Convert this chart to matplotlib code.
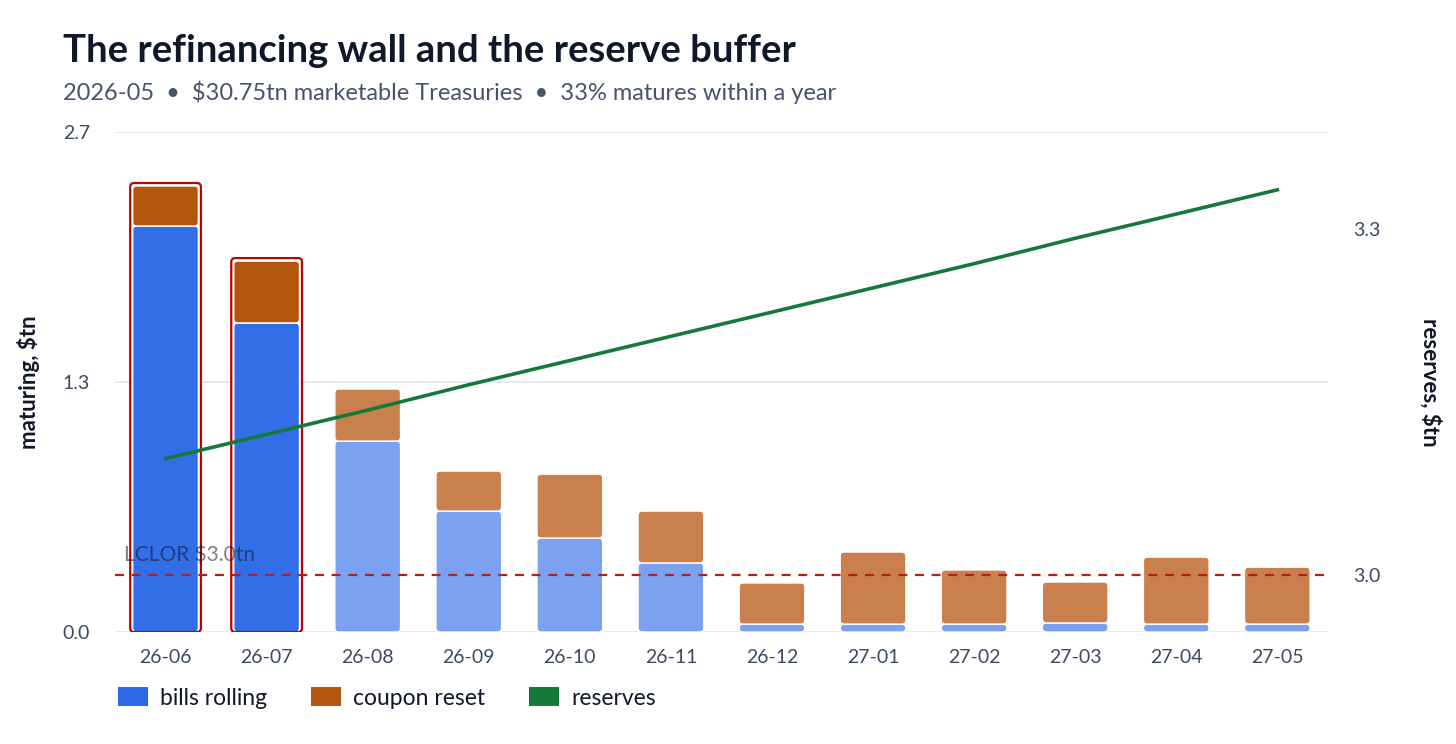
import matplotlib
matplotlib.use("Agg")
import matplotlib.pyplot as plt
from matplotlib.patches import FancyBboxPatch, Patch

plt.rcParams["font.family"] = ["Lato", "DejaVu Sans"]

# ---- data ----
months = ["26-06", "26-07", "26-08", "26-09", "26-10", "26-11",
          "26-12", "27-01", "27-02", "27-03", "27-04", "27-05"]
bills = [2.152, 1.638, 1.012, 0.641, 0.498, 0.366, 0.042, 0.042, 0.042, 0.048, 0.042, 0.042]
coupon = [0.212, 0.328, 0.276, 0.212, 0.339, 0.275, 0.218, 0.382, 0.287, 0.217, 0.355, 0.302]
reserves = [3.101, 3.122, 3.143, 3.165, 3.186, 3.207, 3.228, 3.249, 3.270, 3.292, 3.313, 3.334]
highlight = [True, True] + [False] * 10
lclor = 3.0
left_max = 2.65

title = "The refinancing wall and the reserve buffer"
subtitle = "2026-05  \u2022  $30.75tn marketable Treasuries  \u2022  33% matures within a year"

BLUE = "#336ee9"
BLUE_LT = "#7ba1f1"
ORANGE = "#b5560f"
ORANGE_LT = "#c9804c"
GREEN = "#137a3a"
RED = "#c00000"
INK = "#0f172a"
TICK = "#3b4a60"
GRID = "#e2e7f0"

fig = plt.figure(figsize=(14.56, 7.44), dpi=100)
ax = fig.add_axes([0.079, 0.1505, 0.833, 0.672])
ax2 = ax.twinx()

x = list(range(len(months)))
width = 0.65
ax.set_xlim(-0.5, len(months) - 0.5)
ax.set_ylim(0, left_max)
ax2.set_ylim(2.9506, 3.3841)

# rounded corners: radius in x units, aspect to keep them round on screen
r = 0.04
asp = (left_max / 500) / (12 / 1213)


def rbar(x0, y0, h, color, z):
    p = FancyBboxPatch((x0 - width / 2, y0), width, h,
                       boxstyle=f"round,pad=0,rounding_size={r}",
                       mutation_aspect=asp, facecolor=color,
                       edgecolor="white", linewidth=1.0, zorder=z)
    ax.add_patch(p)


for i in x:
    hl = highlight[i]
    rbar(i, 0, bills[i], BLUE if hl else BLUE_LT, 3)
    rbar(i, bills[i], coupon[i], ORANGE if hl else ORANGE_LT, 3)
    if hl:
        pad_x = 0.025
        pad_y = 0.016
        o = FancyBboxPatch((i - width / 2 - pad_x, 0.0), width + 2 * pad_x,
                           bills[i] + coupon[i] + pad_y,
                           boxstyle=f"round,pad=0,rounding_size={r}",
                           mutation_aspect=asp, facecolor="none",
                           edgecolor=RED, linewidth=1.6, zorder=4)
        ax.add_patch(o)

ax.set_yticks([0.0, left_max / 2, left_max])
ax.set_yticklabels(["0.0", "1.3", "2.7"])
ax.grid(axis="y", color=GRID, linewidth=1.2)
ax.set_axisbelow(True)
ax.set_xticks(x)
ax.set_xticklabels(months)
ax.tick_params(axis="both", length=0, labelsize=14, colors=TICK, pad=12)
ax.tick_params(axis="y", pad=18)
for s in ax.spines.values():
    s.set_visible(False)
for s in ax2.spines.values():
    s.set_visible(False)

# reserves on the right axis
ax2.plot(x, reserves, color=GREEN, linewidth=2.6, zorder=5)
ax2.axhline(lclor, color="#b81c1c", linestyle=(0, (4, 3.5)), linewidth=1.6, zorder=6)
ax2.text(-0.41, lclor + 0.008, "LCLOR $3.0tn", fontsize=15, color=INK, alpha=0.55,
         ha="left", va="bottom", zorder=7)
ax2.set_yticks([3.0, 3.3])
ax2.set_yticklabels(["3.0", "3.3"])
ax2.tick_params(axis="y", length=0, labelsize=14, colors=TICK, pad=18)
ax.set_zorder(1)
ax2.set_zorder(2)
ax2.patch.set_visible(False)

ax.set_ylabel("maturing, $tn", fontsize=16, fontweight="bold", color=INK, labelpad=16)
ax2.set_ylabel("reserves, $tn", fontsize=16, fontweight="bold", color=INK,
               rotation=270, labelpad=44)

fig.text(0.0433, 0.932, title, fontsize=27.5, fontweight="bold", color=INK,
         ha="left", va="center")
fig.text(0.0433, 0.876, subtitle, fontsize=17, color="#46536a",
         ha="left", va="center")

handles = [
    Patch(facecolor="#2f68e6", edgecolor="none", label="bills rolling"),
    Patch(facecolor=ORANGE, edgecolor="none", label="coupon reset"),
    Patch(facecolor=GREEN, edgecolor="none", label="reserves"),
]
leg = fig.legend(handles=handles, loc="center left", bbox_to_anchor=(0.073, 0.062),
                 ncol=3, frameon=False, fontsize=16.5, handlelength=1.3,
                 handleheight=0.9, handletextpad=0.55, columnspacing=1.9,
                 borderpad=0.0)
for t in leg.get_texts():
    t.set_color(INK)

fig.savefig("out.png", dpi=100)
